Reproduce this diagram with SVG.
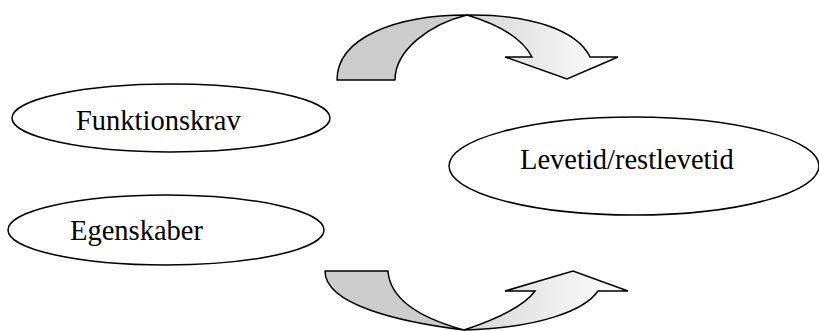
<svg xmlns="http://www.w3.org/2000/svg" width="819" height="331" viewBox="0 0 819 331">
<defs>
<linearGradient id="gTop" gradientUnits="userSpaceOnUse" x1="465" y1="0" x2="620" y2="0">
<stop offset="0" stop-color="#d6d6d6"/>
<stop offset="1" stop-color="#ffffff"/>
</linearGradient>
<linearGradient id="gBot" gradientUnits="userSpaceOnUse" x1="463" y1="0" x2="628" y2="0">
<stop offset="0" stop-color="#d6d6d6"/>
<stop offset="1" stop-color="#ffffff"/>
</linearGradient>
</defs>
<style>
.node{fill:#ffffff;stroke:#000000;stroke-width:1.5}
.lbl{font-family:"Liberation Serif","Times New Roman",serif;font-size:28.5px;fill:#000000}
.back{fill:#cccccc;stroke:#000000;stroke-width:1.5;stroke-linejoin:round}
.front{stroke:#000000;stroke-width:1.5;stroke-linejoin:miter}
</style>
<rect width="819" height="331" fill="#ffffff"/>
<g id="connectors">
<g id="arrow-top">
<path class="back" d="M337,80 C337,38 395,15 467,15 C430,24 395,50 395,80 Z"/>
<path class="front" fill="url(#gTop)" d="M467,15 C530,14 577,30 590,57 L618,57 L567,79 L505,57 L532,57 C522,38 497,24 467,15 Z"/>
</g>
<g id="arrow-bottom">
<path class="back" d="M325,271 L388,271 C390,300 420,318 464,330 C400,322 325,305 325,271 Z"/>
<path class="front" fill="url(#gBot)" d="M464,330 C500,318 525,305 535,291 L505,291 L573,271 L628,291 L598,291 C585,310 540,328 464,330 Z"/>
</g>
</g>
<g id="node-funktionskrav">
<ellipse class="node" cx="171" cy="118" rx="159" ry="34"/>
<text class="lbl" x="76" y="130">Funktionskrav</text>
</g>
<g id="node-egenskaber">
<ellipse class="node" cx="166" cy="230" rx="158" ry="35"/>
<text class="lbl" x="70" y="240">Egenskaber</text>
</g>
<g id="node-levetid">
<ellipse class="node" cx="634" cy="166" rx="185" ry="49"/>
<text class="lbl" x="520" y="169">Levetid/restlevetid</text>
</g>
</svg>
